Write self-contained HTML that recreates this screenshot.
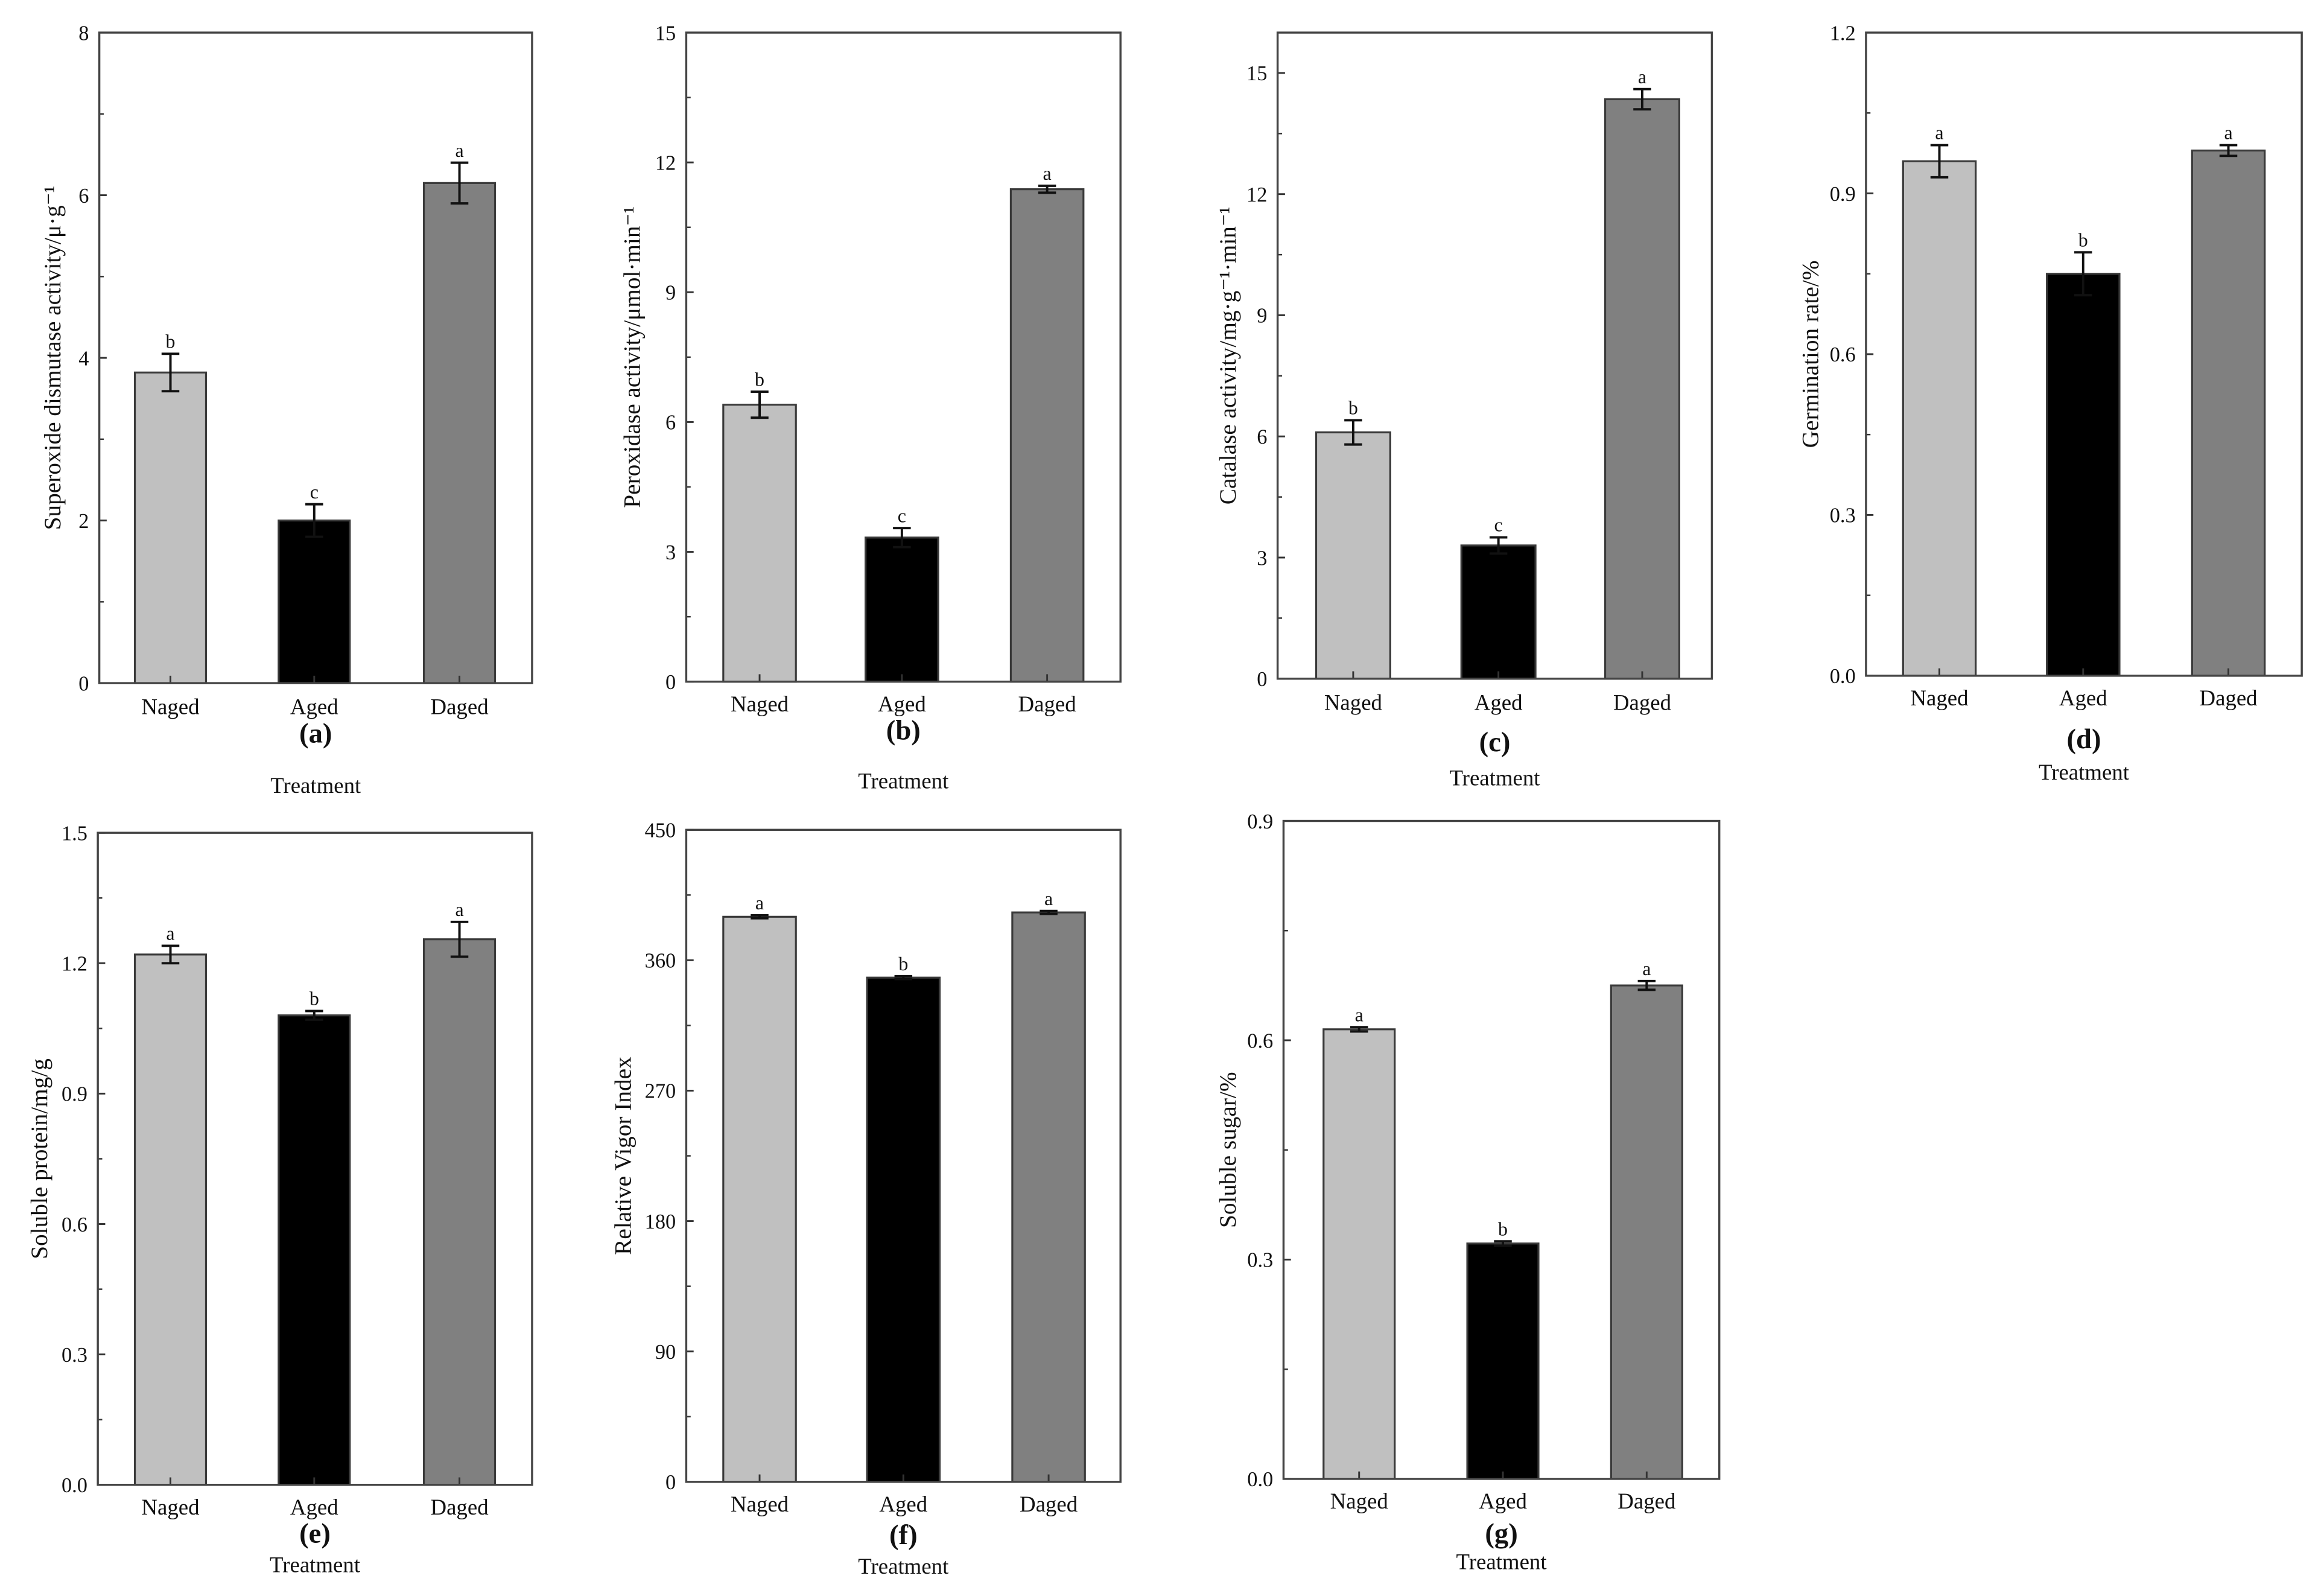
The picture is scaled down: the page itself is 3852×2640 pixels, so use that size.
<!DOCTYPE html>
<html><head><meta charset="utf-8">
<style>
html,body{margin:0;padding:0;background:#fff;}
svg{display:block;}
text{font-family:"Liberation Serif",serif;fill:#111;}
</style></head>
<body>
<svg id="fig" width="3852" height="2640" viewBox="0 0 1568 1075" preserveAspectRatio="none" xmlns="http://www.w3.org/2000/svg"></svg>
<script>
const categories = ["Naged","Aged","Daged"];
const lettersA = ["b","c","a"]; const valuesA = [3.82,2.0,6.15]; const errA = [0.23,0.2,0.25];
const lettersB = ["b","c","a"]; const valuesB = [6.4,3.33,11.38]; const errB = [0.3,0.22,0.08];
const lettersC = ["b","c","a"]; const valuesC = [6.1,3.3,14.35]; const errC = [0.3,0.2,0.25];
const lettersD = ["a","b","a"]; const valuesD = [0.96,0.75,0.98]; const errD = [0.03,0.04,0.01];
const lettersE = ["a","b","a"]; const valuesE = [1.22,1.08,1.255]; const errE = [0.02,0.01,0.04];
const lettersF = ["a","b","a"]; const valuesF = [390,348,393]; const errF = [1,1,1];
const lettersG = ["a","b","a"]; const valuesG = [0.615,0.322,0.675]; const errG = [0.003,0.003,0.006];
const ticksA = ["0","2","4","6","8"];
const ticksB = ["0","3","6","9","12","15"];
const ticksC = ["0","3","6","9","12","15"];
const ticksD = ["0.0","0.3","0.6","0.9","1.2"];
const ticksE = ["0.0","0.3","0.6","0.9","1.2","1.5"];
const ticksF = ["0","90","180","270","360","450"];
const ticksG = ["0.0","0.3","0.6","0.9"];

const NS="http://www.w3.org/2000/svg";
const svg=document.getElementById('fig');
function mk(tag,attrs,parent,txt){const e=document.createElementNS(NS,tag);for(const k in attrs)e.setAttribute(k,attrs[k]);if(txt!==undefined)e.textContent=txt;(parent||svg).appendChild(e);return e;}
const fills=["#c0c0c0","#000000","#808080"];

const panels=[
 {id:"a",x0:67,x1:359,y0:22,y1:461,max:8,ticks:ticksA,step:2,v:valuesA,e:errA,l:lettersA,bars:[91,188,286],bw:48,lab:"Superoxide dismutase activity/μ·g⁻¹",lx:37,catY:482,capY:501,trY:535},
 {id:"b",x0:463,x1:756,y0:22,y1:460,max:15,ticks:ticksB,step:3,v:valuesB,e:errB,l:lettersB,bars:[488,584,682],bw:49,lab:"Peroxidase activity/μmol·min⁻¹",lx:428,catY:480,capY:499,trY:532},
 {id:"c",x0:862,x1:1155,y0:22,y1:458,max:16,ticks:ticksC,step:3,v:valuesC,e:errC,l:lettersC,bars:[888,986,1083],bw:50,lab:"Catalase activity/mg·g⁻¹·min⁻¹",lx:830,catY:479,capY:507,trY:530},
 {id:"d",x0:1259,x1:1553,y0:22,y1:456,max:1.2,ticks:ticksD,step:0.3,v:valuesD,e:errD,l:lettersD,bars:[1284,1381,1479],bw:49,lab:"Germination rate/%",lx:1223,catY:476,capY:505,trY:526},
 {id:"e",x0:66,x1:359,y0:562,y1:1002,max:1.5,ticks:ticksE,step:0.3,v:valuesE,e:errE,l:lettersE,bars:[91,188,286],bw:48,lab:"Soluble protein/mg/g",lx:28,catY:1022,capY:1041,trY:1061},
 {id:"f",x0:463,x1:756,y0:560,y1:1000,max:450,ticks:ticksF,step:90,v:valuesF,e:errF,l:lettersF,bars:[488,585,683],bw:49,lab:"Relative Vigor Index",lx:422,catY:1020,capY:1042,trY:1062},
 {id:"g",x0:866,x1:1160,y0:554,y1:998,max:0.9,ticks:ticksG,step:0.3,v:valuesG,e:errG,l:lettersG,bars:[893,990,1087],bw:48,lab:"Soluble sugar/%",lx:830,catY:1018,capY:1041,trY:1059}
];

panels.forEach(p=>{
 const g=mk('g',{});
 
 
 const Y=v=>p.y1-(v/p.max)*(p.y1-p.y0);
 p.ticks.forEach((t,i)=>{
  const yy=Y(i*p.step);
  const tl=mk('line',{x1:p.x0,x2:p.x0+5,y1:yy,y2:yy,stroke:"#333","stroke-width":1.2},g);
  
  
  const tx=mk('text',{x:p.x0-7,y:yy+5,"text-anchor":"end","font-size":14},g,t);
  
  
  const mv=(i+0.5)*p.step;
  if(mv<p.max){const ym=Y(mv);mk('line',{x1:p.x0,x2:p.x0+3,y1:ym,y2:ym,stroke:"#333","stroke-width":1},g);}
 });
 p.v.forEach((v,i)=>{
  const bx=p.bars[i], cx=bx+p.bw/2, top=Y(v);
  const r=mk('rect',{x:bx,y:top,width:p.bw,height:p.y1-top,fill:fills[i],stroke:"#3a3a3a","stroke-width":1.3},g);
  
  
  const et=Y(v+p.e[i]), eb=Y(v-p.e[i]);
  const eg=mk('g',{stroke:"#111","stroke-width":1.6},g);
  
  
  mk('line',{x1:cx,x2:cx,y1:et,y2:eb},eg);
  mk('line',{x1:cx-6,x2:cx+6,y1:et,y2:et},eg);
  mk('line',{x1:cx-6,x2:cx+6,y1:eb,y2:eb},eg);
  const lt=mk('text',{x:cx,y:et-4,"text-anchor":"middle","font-size":13},g,p.l[i]);
  
  
  mk('line',{x1:cx,x2:cx,y1:p.y1,y2:p.y1-5,stroke:"#333","stroke-width":1.2},g);
  const ct=mk('text',{x:cx,y:p.catY,"text-anchor":"middle","font-size":15},g,categories[i]);
  
  
 });
 const fr=mk('rect',{x:p.x0,y:p.y0,width:p.x1-p.x0,height:p.y1-p.y0,fill:"none",stroke:"#444","stroke-width":1.4},g);
 
 
 const cx0=(p.x0+p.x1)/2;
 const cap=mk('text',{x:cx0,y:p.capY,"text-anchor":"middle","font-size":19,"font-weight":"bold"},g,"("+p.id+")");
 
 
 const tr=mk('text',{x:cx0,y:p.trY,"text-anchor":"middle","font-size":15},g,"Treatment");
 
 
 const ym=(p.y0+p.y1)/2;
 const yl=mk('text',{x:p.lx,y:ym,"text-anchor":"middle","font-size":16,transform:`rotate(-90 ${p.lx} ${ym})`,"dominant-baseline":"middle"},g,p.lab);
 
 
});
</script>
</body></html>
